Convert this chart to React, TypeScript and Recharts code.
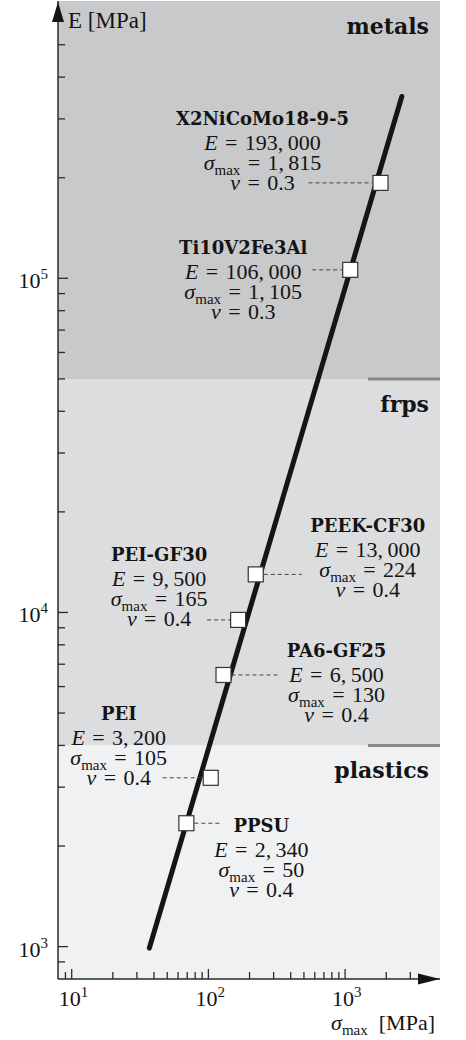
import React from "react";
import {
  ScatterChart,
  Scatter,
  XAxis,
  YAxis,
  ReferenceArea,
  ReferenceLine,
  ReferenceDot,
} from "recharts";

// materials shown on the chart
const materialNames = ["X2NiCoMo18-9-5", "Ti10V2Fe3Al", "PEEK-CF30", "PEI-GF30", "PA6-GF25", "PEI", "PPSU"];
const youngsModulus = [193000, 106000, 13000, 9500, 6500, 3200, 2340];
const maxStress = [1815, 1105, 224, 165, 130, 105, 50];
// stress where the marker actually sits in the picture (PPSU is drawn on the trend line)
const markerStress = [1815, 1090, 222, 165, 129, 104, 69];
const poissonRatio = [0.3, 0.3, 0.4, 0.4, 0.4, 0.4, 0.4];

// trend line end points
const trendStress = [37, 2600];
const trendModulus = [990, 350000];

// material class bands
const bandNames = ["metals", "frps", "plastics"];
const bandLow = [50000, 4000, 800];
const bandHigh = [675900, 50000, 4000];
const bandColors = ["#c8c9cb", "#dcdddf", "#f0f1f2"];
const bandEdgeStart = 1470;

const xTicks = [9, 10, 20, 30, 40, 50, 60, 70, 80, 90, 100, 200, 300, 400, 500, 600, 700, 800, 900, 1000, 2000, 3000];
const yTicks = [
  900, 1000, 2000, 3000, 4000, 5000, 6000, 7000, 8000, 9000, 10000, 20000, 30000, 40000, 50000, 60000, 70000,
  80000, 90000, 100000, 200000, 300000, 400000, 500000,
];
const xMajor = [10, 100, 1000];
const yMajor = [1000, 10000, 100000];

const X_DOMAIN = [7.94, 4946];
const Y_DOMAIN = [800, 675900];

const AXIS = "#2a2a2a";
const INK = "#141414";
const MATH_FONT = "'Liberation Serif', 'DejaVu Serif', serif";
const BOLD_FONT = "'DejaVu Serif', serif";
const EQ = "\u2004=\u2004";

// label placement relative to each marker (px): text centre, name baseline, dashed leader span
const labelLayout = [
  { dx: -118, dy: -58, lead: [-72, -8] },
  { dx: -107, dy: -16, lead: [-38, -8] },
  { dx: 112, dy: -42, lead: [8, 46] },
  { dx: -79, dy: -59, lead: [-31, -8] },
  { dx: 113, dy: -18, lead: [8, 54] },
  { dx: -92, dy: -58, lead: [-48, -8] },
  { dx: 75, dy: 9, lead: [8, 35] },
];

const materials = materialNames.map((name, i) => ({
  idx: i,
  name,
  sigma: markerStress[i],
  E: youngsModulus[i],
}));

const trend = trendStress.map((s, i) => ({ sigma: s, E: trendModulus[i] }));

const fmt = (v: number) => v.toLocaleString("en-US").replace(/,/g, ",\u2009");

const XTick = (props: any) => {
  const { x, y, payload } = props;
  const major = xMajor.includes(payload.value);
  return (
    <g>
      <line x1={x} x2={x} y1={y} y2={y - (major ? 10 : 7)} stroke={AXIS} strokeWidth={1.3} />
      {major && (
        <text x={x - 13} y={y + 27} fontFamily={MATH_FONT} fontSize={22} fill={INK}>
          10
          <tspan dy={-9} fontSize={15}>
            {Math.round(Math.log10(payload.value))}
          </tspan>
        </text>
      )}
    </g>
  );
};

const YTick = (props: any) => {
  const { x, y, payload } = props;
  const major = yMajor.includes(payload.value);
  return (
    <g>
      <line x1={x} x2={x + (major ? 10 : 7)} y1={y} y2={y} stroke={AXIS} strokeWidth={1.3} />
      {major && (
        <text x={x - 10} y={y + 10} textAnchor="end" fontFamily={MATH_FONT} fontSize={22} fill={INK}>
          10
          <tspan dy={-9} fontSize={15}>
            {Math.round(Math.log10(payload.value))}
          </tspan>
        </text>
      )}
    </g>
  );
};

const MaterialMarker = (props: any) => {
  const { cx, cy, payload } = props;
  const i = payload.idx;
  const lay = labelLayout[i];
  const lx = cx + lay.dx;
  const ny = cy + lay.dy;
  const mathStyle = { fontFamily: MATH_FONT, fontSize: 22, fill: INK };
  return (
    <g>
      <line
        x1={cx + lay.lead[0]}
        x2={cx + lay.lead[1]}
        y1={cy}
        y2={cy}
        stroke="#444"
        strokeWidth={1}
        strokeDasharray="4 3"
      />
      <rect x={cx - 7.5} y={cy - 7.5} width={15} height={15} fill="#fff" stroke="#333" strokeWidth={1.2} />
      <text x={lx} y={ny} textAnchor="middle" fontFamily={BOLD_FONT} fontWeight="bold" fontSize={18} fill={INK}>
        {payload.name}
      </text>
      <text x={lx} y={ny + 25} textAnchor="middle" {...mathStyle}>
        <tspan fontStyle="italic">E</tspan>
        {EQ + fmt(youngsModulus[i])}
      </text>
      <text x={lx} y={ny + 45} textAnchor="middle" {...mathStyle}>
        <tspan fontStyle="italic">σ</tspan>
        <tspan fontSize={15} dy={5}>
          max
        </tspan>
        <tspan dy={-5}>{EQ + fmt(maxStress[i])}</tspan>
      </text>
      <text x={lx} y={ny + 65} textAnchor="middle" {...mathStyle}>
        <tspan fontStyle="italic">ν</tspan>
        {EQ + poissonRatio[i].toFixed(1)}
      </text>
    </g>
  );
};

const BandLabel = (name: string) => (props: any) => {
  const vb = props.viewBox;
  return (
    <text
      x={vb.x + vb.width - 11}
      y={vb.y + 33}
      textAnchor="end"
      fontFamily={BOLD_FONT}
      fontWeight="bold"
      fontSize={22}
      fill={INK}
    >
      {name}
    </text>
  );
};

const UpArrow = (props: any) => {
  const { cx, cy } = props;
  return <path d={`M${cx},${cy + 1} L${cx + 6},${cy + 21} L${cx - 6},${cy + 21} Z`} fill={INK} />;
};

const RightArrow = (props: any) => {
  const { cx, cy } = props;
  return <path d={`M${cx},${cy} L${cx - 22},${cy - 5.5} L${cx - 22},${cy + 5.5} Z`} fill={INK} />;
};

export default function App() {
  return (
    <div style={{ position: "absolute", left: 0, top: 0, width: 466, height: 1040, background: "#fff" }}>
      <ScatterChart width={466} height={1040} margin={{ top: 1, right: 26, bottom: 0, left: 0 }}>
        {bandNames.map((name, i) => (
          <ReferenceArea
            key={name}
            y1={bandLow[i]}
            y2={bandHigh[i]}
            fill={bandColors[i]}
            fillOpacity={1}
            stroke="none"
            ifOverflow="hidden"
            label={BandLabel(name)}
          />
        ))}
        {bandLow.slice(0, 2).map((v) => (
          <ReferenceLine
            key={v}
            segment={[
              { x: bandEdgeStart, y: v },
              { x: X_DOMAIN[1], y: v },
            ]}
            stroke="#8a8a8a"
            strokeWidth={3}
            ifOverflow="visible"
          />
        ))}
        <XAxis
          type="number"
          dataKey="sigma"
          scale="log"
          domain={X_DOMAIN}
          allowDataOverflow
          ticks={xTicks}
          interval={0}
          height={61}
          tickSize={0}
          tickMargin={0}
          tickLine={false}
          tick={<XTick />}
          axisLine={{ stroke: AXIS, strokeWidth: 1.5 }}
          label={(p: any) => (
            <text
              x={p.viewBox.x + p.viewBox.width - 5}
              y={p.viewBox.y + 51}
              textAnchor="end"
              fontFamily={MATH_FONT}
              fontSize={22}
              fill={INK}
            >
              <tspan fontStyle="italic">σ</tspan>
              <tspan fontSize={15} dy={5}>
                max
              </tspan>
              <tspan dy={-5}>{"\u2002[MPa]"}</tspan>
            </text>
          )}
        />
        <YAxis
          type="number"
          dataKey="E"
          scale="log"
          domain={Y_DOMAIN}
          allowDataOverflow
          ticks={yTicks}
          interval={0}
          width={58}
          tickSize={0}
          tickMargin={0}
          tickLine={false}
          tick={<YTick />}
          axisLine={{ stroke: AXIS, strokeWidth: 1.5 }}
          label={(p: any) => (
            <text
              x={p.viewBox.x + p.viewBox.width + 10}
              y={p.viewBox.y + 27}
              fontFamily={MATH_FONT}
              fontSize={23}
              fill={INK}
            >
              E [MPa]
            </text>
          )}
        />
        <Scatter
          data={trend}
          fill="none"
          line={{ stroke: "#151515", strokeWidth: 5, strokeLinecap: "round" }}
          shape={() => <g />}
          isAnimationActive={false}
        />
        <Scatter data={materials} shape={(p: any) => <MaterialMarker {...p} />} isAnimationActive={false} />
        <ReferenceDot x={X_DOMAIN[0]} y={Y_DOMAIN[1]} ifOverflow="visible" shape={(p: any) => <UpArrow {...p} />} />
        <ReferenceDot x={X_DOMAIN[1]} y={Y_DOMAIN[0]} ifOverflow="visible" shape={(p: any) => <RightArrow {...p} />} />
      </ScatterChart>
    </div>
  );
}
